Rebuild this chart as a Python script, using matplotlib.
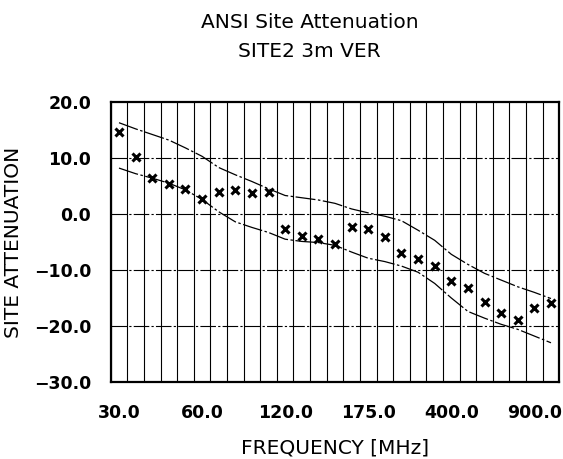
import numpy as np
import matplotlib
matplotlib.use("Agg")
import matplotlib.pyplot as plt

# frequencies (MHz) of the ANSI site attenuation points
freqs = [30, 35, 40, 45, 50, 60, 70, 80, 90, 100, 120, 125, 140, 150, 160,
         175, 180, 200, 250, 300, 400, 500, 600, 700, 800, 900, 1000]

# measured site attenuation (dB)
measured = [14.6, 10.1, 6.4, 5.4, 4.5, 2.6, 3.9, 4.3, 3.8, 4.0, -2.7, -3.9,
            -4.5, -5.4, -2.4, -2.7, -4.05, -7.0, -8.1, -9.35, -12.0, -13.2,
            -15.8, -17.6, -19.0, -16.8, -15.9]

# upper / lower limit lines (dB)
upper = [16.3, 15.2, 14.2, 13.2, 11.8, 10.3, 8.3, 7.0, 5.8, 4.5, 3.3, 2.9,
         2.5, 1.9, 0.9, 0.2, -0.4, -1.2, -2.9, -4.7, -7.2, -9.0, -10.6,
         -11.8, -13.0, -14.0, -15.1]
lower = [8.2, 7.2, 6.4, 5.5, 4.3, 2.6, 0.4, -1.4, -2.4, -3.3, -4.5, -4.9,
         -5.1, -5.6, -6.8, -7.9, -8.5, -9.3, -10.4, -12.4, -15.0, -17.4,
         -18.6, -19.7, -20.6, -21.8, -23.0]

yticks = [20, 10, 0, -10, -20, -30]
xtick_idx = [0, 5, 10, 15, 20, 25]

fig = plt.figure(figsize=(5.63, 4.59), dpi=100)
ax = fig.add_axes([0.1966, 0.1678, 0.7968, 0.61])

idx = np.arange(len(freqs))

# vertical grid: one line per cell boundary
for b in np.arange(-0.5, len(freqs), 1.0):
    ax.axvline(b, color="black", lw=0.8, zorder=1)
# horizontal grid
for v in yticks[1:-1]:
    ax.axhline(v, color="black", lw=0.8, dashes=(14, 2, 2, 2), zorder=1)

ax.plot(idx, upper, color="black", lw=0.9, dashes=(16, 2, 2, 2), zorder=2)
ax.plot(idx, lower, color="black", lw=0.9, dashes=(16, 2, 2, 2), zorder=2)
ax.plot(idx, measured, linestyle="none", marker="x", ms=5.5, mew=2.2,
        color="black", zorder=3)

ax.set_xlim(-0.5, len(freqs) - 0.5)
ax.set_ylim(-30, 20)
ax.set_xticks(xtick_idx)
ax.set_xticklabels(["%.1f" % freqs[i] for i in xtick_idx],
                   fontsize=12.5, fontweight="bold")
ax.set_yticks(yticks)
ax.set_yticklabels(["%.1f" % v if v >= 0 else "\u2212%.1f" % -v for v in yticks],
                   fontsize=12.5, fontweight="bold")
ax.tick_params(axis="both", length=0)
ax.tick_params(axis="y", pad=14)
ax.tick_params(axis="x", pad=16)
for s in ax.spines.values():
    s.set_linewidth(1.6)
    s.set_zorder(4)

fig.text(0.595, 0.024, "FREQUENCY [MHz]", ha="center", va="center",
         fontsize=14.5)
fig.text(0.024, 0.473, "SITE ATTENUATION", ha="center", va="center",
         rotation=90, fontsize=14.5)

fig.text(0.55, 0.939, "ANSI Site Attenuation", ha="center", va="baseline",
         fontsize=14.5)
fig.text(0.55, 0.876, "SITE2 3m VER", ha="center", va="baseline",
         fontsize=14.5)

fig.savefig("out.png", dpi=100)
